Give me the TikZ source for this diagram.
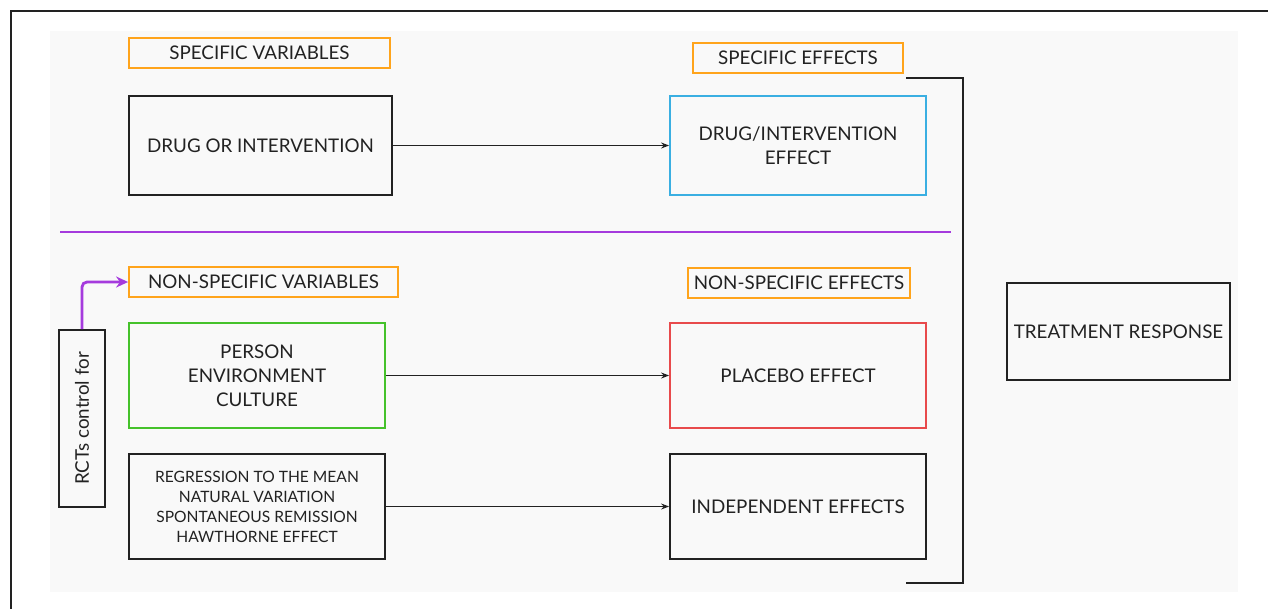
\documentclass[tikz,border=0pt]{standalone}
\usepackage{fontspec}
\setmainfont{Lato}
\usetikzlibrary{arrows.meta}
\definecolor{bgray}{HTML}{F9F9F9}
\definecolor{lorange}{HTML}{FFA41C}
\definecolor{lblue}{HTML}{3AAFE2}
\definecolor{lgreen}{HTML}{45C22B}
\definecolor{lred}{HTML}{E84A4C}
\definecolor{lpurple}{HTML}{A53BDD}
\definecolor{ldark}{HTML}{222222}
\tikzset{
  box/.style={draw=ldark, line width=1.8pt, rectangle, inner sep=0pt, align=center, text=ldark,
    font=\fontsize{18.8}{24}\selectfont},
  tag/.style={box, draw=lorange},
  small/.style={font=\fontsize{15.6}{20}\selectfont},
  arr/.style={draw=ldark, line width=1.3pt, -{Stealth[length=8pt,width=6pt]}},
  parr/.style={draw=lpurple, line width=2.8pt, rounded corners=5pt, -{Stealth[length=12pt,width=11pt]}},
  brk/.style={draw=ldark, line width=1.8pt},
}
\begin{document}
\begin{tikzpicture}[x=1pt,y=-1pt]
\useasboundingbox (0,0) rectangle (1268,608);
% frame and background
\draw[draw=ldark, line width=2pt] (10.5,620) -- (10.5,10.5) -- (1280,10.5);
\fill[bgray] (50,31) rectangle (1238,592);
% top section
\node[tag, minimum width=261pt, minimum height=30pt] (sv) at (259.5,53) {SPECIFIC VARIABLES};
\node[tag, minimum width=210pt, minimum height=30pt] (se) at (798,58) {SPECIFIC EFFECTS};
\node[box, minimum width=263pt, minimum height=99pt] (drug) at (260.5,145.5) {DRUG OR INTERVENTION};
\node[box, draw=lblue, minimum width=256pt, minimum height=99pt] (drugeff) at (798,145.5) {DRUG/INTERVENTION\\EFFECT};
\draw[arr] (drug.east) -- (drugeff.west);
% divider
\coordinate (dl) at (60,232);
\coordinate (dr) at (951,232);
\draw[draw=lpurple, line width=2.4pt] (dl) -- (dr);
% lower section
\node[tag, minimum width=269pt, minimum height=30pt] (nsv) at (263.5,282) {NON-SPECIFIC VARIABLES};
\node[tag, minimum width=222pt, minimum height=30pt] (nse) at (799,283) {NON-SPECIFIC EFFECTS};
\node[box, draw=lgreen, minimum width=256pt, minimum height=105pt] (pers) at (257,375.5) {PERSON\\ENVIRONMENT\\CULTURE};
\node[box, draw=lred, minimum width=256pt, minimum height=105pt] (plac) at (798,375.5) {PLACEBO EFFECT};
\draw[arr] (pers.east) -- (plac.west);
\node[box, small, minimum width=256pt, minimum height=105pt] (regr) at (257,506.5) {REGRESSION TO THE MEAN\\NATURAL VARIATION\\SPONTANEOUS REMISSION\\HAWTHORNE EFFECT};
\node[box, minimum width=256pt, minimum height=105pt] (indep) at (798,506.5) {INDEPENDENT EFFECTS};
\draw[arr] (regr.east) -- (indep.west);
% RCTs
\node[box, rotate=90, minimum width=177pt, minimum height=46pt] (rct) at (82,418.5) {RCTs control for};
\draw[parr] (rct.east) |- (nsv.west);
% bracket
\coordinate (b1) at (906,78);
\coordinate (b2) at (963,78);
\coordinate (b3) at (963,583);
\coordinate (b4) at (906,583);
\draw[brk] (b1) -- (b2) -- (b3) -- (b4);
% treatment response
\node[box, minimum width=223pt, minimum height=97pt] (tr) at (1118.5,331.5) {TREATMENT RESPONSE};
\end{tikzpicture}
\end{document}
